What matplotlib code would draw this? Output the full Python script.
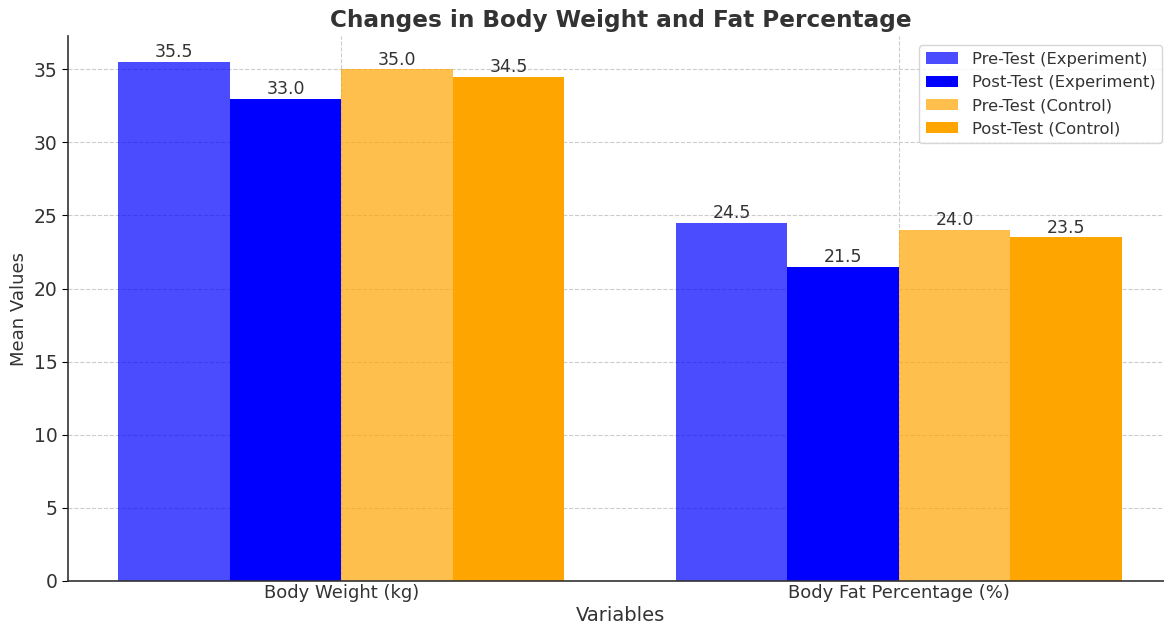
import matplotlib
matplotlib.use("Agg")
import matplotlib.pyplot as plt
import numpy as np

categories = ["Body Weight (kg)", "Body Fat Percentage (%)"]
series_names = ["Pre-Test (Experiment)", "Post-Test (Experiment)", "Pre-Test (Control)", "Post-Test (Control)"]
pre_exp = [35.5, 24.5]
post_exp = [33.0, 21.5]
pre_ctrl = [35.0, 24.0]
post_ctrl = [34.5, 23.5]

colors = ["blue", "blue", "orange", "orange"]
alphas = [0.7, 1.0, 0.7, 1.0]

text_color = "#333333"
fig = plt.figure(figsize=(11.64, 6.28), dpi=100)
W, H = 1164, 628
ax = fig.add_axes([68 / W, (H - 581) / H, (1172 - 68) / W, (581 - 36) / H])

x = np.arange(len(categories))
width = 0.2
all_series = [pre_exp, post_exp, pre_ctrl, post_ctrl]
for i, (vals, name) in enumerate(zip(all_series, series_names)):
    bars = ax.bar(x + (i - 1.5) * width, vals, width, label=name, color=colors[i], alpha=alphas[i], zorder=2)
    for b, v in zip(bars, vals):
        ax.text(b.get_x() + b.get_width() / 2, v + 0.05, f"{v:.1f}", ha="center", va="bottom",
                fontsize=12.5, color=text_color)

ax.set_xticks(x)
ax.set_xticklabels(categories, fontsize=13, color=text_color)
ax.tick_params(axis="y", labelsize=13.5, labelcolor=text_color, length=4)
ax.tick_params(axis="x", length=0, pad=2)
ax.set_xlabel("Variables", fontsize=14, color=text_color, labelpad=3)
ax.set_ylabel("Mean Values", fontsize=13, color=text_color)
fig.suptitle("Changes in Body Weight and Fat Percentage", fontsize=16.7, fontweight="bold",
             color=text_color, x=621 / W, y=1 - 20 / H, va="center")
ax.grid(True, linestyle="--", color="#cccccc", linewidth=0.8, zorder=0)
ax.set_axisbelow(True)
for s in ["top", "right"]:
    ax.spines[s].set_visible(False)
ax.spines["left"].set_color(text_color)
ax.spines["bottom"].set_color(text_color)
ax.spines["left"].set_linewidth(1.2)
ax.spines["bottom"].set_linewidth(1.2)
leg = ax.legend(fontsize=11.8, loc="upper right", bbox_to_anchor=((1170 - 68) / (1172 - 68), 0.998),
                framealpha=0.8, labelcolor=text_color)

fig.savefig("out.png", dpi=100)
